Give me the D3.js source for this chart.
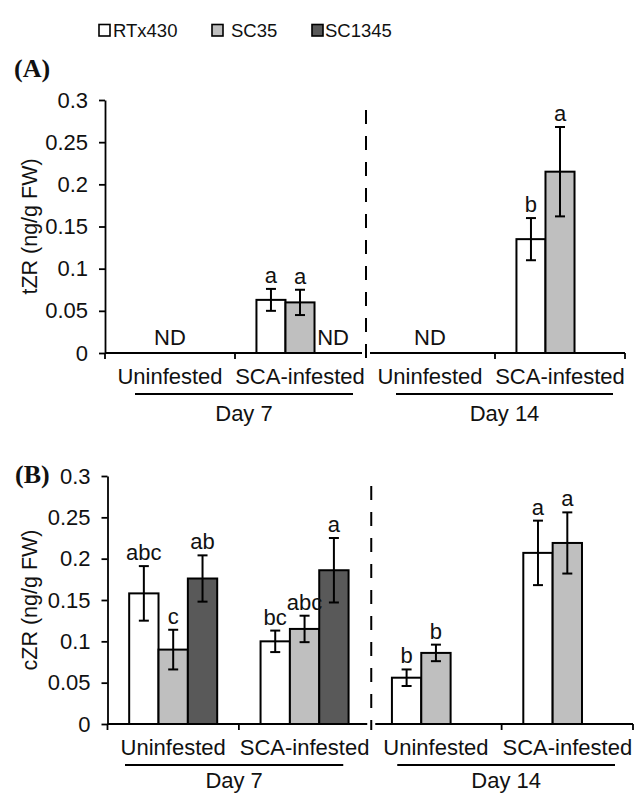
<!DOCTYPE html>
<html><head><meta charset="utf-8">
<script src="https://cdn.jsdelivr.net/npm/d3@7"></script>
<style>
body{margin:0;background:#fff}
svg{display:block}
text{font-family:"Liberation Sans",Arial,sans-serif;fill:#111}
</style>
</head><body><svg id="c" width="644" height="794"></svg>
<script>
// ---------- data ----------
const categories = ["Uninfested", "SCA-infested", "Uninfested", "SCA-infested"];
const days = ["Day 7", "Day 14"];
const series = ["RTx430", "SC35", "SC1345"];
const seriesColors = ["#ffffff", "#bfbfbf", "#595959"];
const yTicks = [0, 0.05, 0.1, 0.15, 0.2, 0.25, 0.3];
const yTickLabels = ["0", "0.05", "0.1", "0.15", "0.2", "0.25", "0.3"];

// Panel A: tZR
const tzrRTx430 = [null, 0.063, null, 0.135];
const tzrSC35 = [null, 0.060, null, 0.215];
const tzrSC1345 = [null, null, null, null];
const tzrErrRTx430 = [null, 0.013, null, 0.025];
const tzrErrSC35 = [null, 0.015, null, 0.053];
const tzrErrSC1345 = [null, null, null, null];
const tzrLetRTx430 = ["", "a", "", "b"];
const tzrLetSC35 = ["", "a", "", "a"];
const tzrLetSC1345 = ["", "", "", ""];
const tzrNotDetected = [[0, null], [1, "SC1345"], [2, null]];

// Panel B: cZR
const czrRTx430 = [0.158, 0.100, 0.056, 0.207];
const czrSC35 = [0.090, 0.115, 0.086, 0.219];
const czrSC1345 = [0.176, 0.186, null, null];
const czrErrRTx430 = [0.033, 0.013, 0.010, 0.039];
const czrErrSC35 = [0.024, 0.016, 0.010, 0.037];
const czrErrSC1345 = [0.028, 0.039, null, null];
const czrLetRTx430 = ["abc", "bc", "b", "a"];
const czrLetSC35 = ["c", "abc", "b", "a"];
const czrLetSC1345 = ["ab", "a", "", ""];
const czrNotDetected = [];

// ---------- layout ----------
const panels = [
  {tag: "(A)", title: "tZR (ng/g FW)", tagX: 14, tagY: 77,
   x0: 105, x1: 625, yTop: 100, yBot: 353, dayDy: 68,
   vals: [tzrRTx430, tzrSC35, tzrSC1345], errs: [tzrErrRTx430, tzrErrSC35, tzrErrSC1345],
   lets: [tzrLetRTx430, tzrLetSC35, tzrLetSC1345], nd: tzrNotDetected,
   lineInsets: [[30, 12], [31, 12]]},
  {tag: "(B)", title: "cZR (ng/g FW)", tagX: 15, tagY: 483,
   x0: 107.5, x1: 633, yTop: 476, yBot: 724, dayDy: 63.5,
   vals: [czrRTx430, czrSC35, czrSC1345], errs: [czrErrRTx430, czrErrSC35, czrErrSC1345],
   lets: [czrLetRTx430, czrLetSC35, czrLetSC1345], nd: czrNotDetected,
   lineInsets: [[17.5, 27], [27, 18]]}
];

const svg = d3.select("#c");
svg.append("rect").attr("width", 644).attr("height", 794).attr("fill", "#fff");
const FS = 22;

// legend
const legX = [99, 212, 312], legTX = [113, 231, 325];
const leg = svg.append("g");
series.forEach((s, i) => {
  leg.append("rect").attr("x", legX[i]).attr("y", 24.5).attr("width", 11).attr("height", 11.5)
    .attr("fill", seriesColors[i]).attr("stroke", "#000").attr("stroke-width", 1.6);
  leg.append("text").attr("x", legTX[i]).attr("y", 37).attr("font-size", 18.5).text(s);
});

panels.forEach(p => {
  const g = svg.append("g");
  const x = d3.scaleBand().domain(d3.range(categories.length)).range([p.x0, p.x1]).padding(0);
  const bw = x.bandwidth();
  const xs = d3.scaleBand().domain(series).range([bw * 0.165, bw * 0.835]).padding(0);
  const y = d3.scaleLinear().domain([0, 0.3]).range([p.yBot, p.yTop]);

  // panel tag
  g.append("text").attr("x", p.tagX).attr("y", p.tagY)
    .style("font-family", "'Liberation Serif','Times New Roman',serif")
    .attr("font-weight", "bold").attr("font-size", 26).text(p.tag);

  // y title
  const yc = (p.yTop + p.yBot) / 2;
  g.append("text").attr("transform", `translate(37,${yc}) rotate(-90)`)
    .attr("text-anchor", "middle").attr("font-size", 21.5).text(p.title);

  // y axis
  const ya = g.append("g").attr("transform", `translate(${p.x0},0)`)
    .call(d3.axisLeft(y).tickValues(yTicks).tickFormat((d, i) => yTickLabels[i])
      .tickSize(6).tickSizeOuter(0).tickPadding(11));
  ya.selectAll("path,line").attr("stroke", "#000").attr("stroke-width", 1.8);
  ya.selectAll("text").attr("font-size", FS).style("font-family", "'Liberation Sans',Arial,sans-serif").attr("fill", "#111");

  // bars
  series.forEach((s, si) => {
    p.vals[si].forEach((v, ci) => {
      if (v == null) return;
      const bx = x(ci) + xs(s);
      g.append("rect").attr("x", bx).attr("y", y(v)).attr("width", xs.bandwidth())
        .attr("height", y(0) - y(v)).attr("fill", seriesColors[si])
        .attr("stroke", "#000").attr("stroke-width", 2);
    });
  });
  // error bars and letters
  series.forEach((s, si) => {
    p.vals[si].forEach((v, ci) => {
      if (v == null) return;
      const cx = x(ci) + xs(s) + xs.bandwidth() / 2;
      const e = p.errs[si][ci];
      const yt = y(v + e), yb = y(v - e);
      const eg = g.append("g").attr("stroke", "#000").attr("stroke-width", 2);
      eg.append("line").attr("x1", cx).attr("x2", cx).attr("y1", yt).attr("y2", yb);
      eg.append("line").attr("x1", cx - 5).attr("x2", cx + 5).attr("y1", yt).attr("y2", yt);
      eg.append("line").attr("x1", cx - 5).attr("x2", cx + 5).attr("y1", yb).attr("y2", yb);
      const L = p.lets[si][ci];
      if (L) g.append("text").attr("x", cx).attr("y", yt - 6).attr("text-anchor", "middle")
        .attr("font-size", FS).text(L);
    });
  });
  // not detected labels
  p.nd.forEach(([ci, s]) => {
    const cx = s == null ? x(ci) + bw / 2 : x(ci) + xs(s) + xs.bandwidth() / 2 + 4;
    g.append("text").attr("x", cx).attr("y", p.yBot - 8).attr("text-anchor", "middle")
      .attr("font-size", FS).text("ND");
  });

  // x baseline, broken at the day divider
  const xd = x(2);
  const base = g.append("g").attr("stroke", "#000").attr("stroke-width", 1.8);
  base.append("line").attr("x1", p.x0).attr("x2", xd - 3).attr("y1", p.yBot).attr("y2", p.yBot);
  base.append("line").attr("x1", xd + 5).attr("x2", p.x1).attr("y1", p.yBot).attr("y2", p.yBot);
  [x(0), x(1), x(3), p.x1].forEach(t => {
    base.append("line").attr("x1", t).attr("x2", t).attr("y1", p.yBot).attr("y2", p.yBot + 6);
  });
  // dashed divider
  g.append("line").attr("x1", xd + 1).attr("x2", xd + 1).attr("y1", p.yTop + 10).attr("y2", p.yBot + 6)
    .attr("stroke", "#000").attr("stroke-width", 2).attr("stroke-dasharray", "14,12");

  // category labels
  categories.forEach((c, ci) => {
    g.append("text").attr("x", x(ci) + bw / 2).attr("y", p.yBot + 31).attr("text-anchor", "middle")
      .attr("font-size", FS).text(c);
  });
  // day underlines + labels
  days.forEach((d, di) => {
    const xa = x(di * 2) + p.lineInsets[di][0];
    const xb = x(di * 2 + 1) + bw - p.lineInsets[di][1];
    g.append("line").attr("x1", xa).attr("x2", xb).attr("y1", p.yBot + 41).attr("y2", p.yBot + 41)
      .attr("stroke", "#000").attr("stroke-width", 2);
    g.append("text").attr("x", (xa + xb) / 2).attr("y", p.yBot + p.dayDy).attr("text-anchor", "middle")
      .attr("font-size", FS).text(d);
  });
});
</script>
</body></html>
